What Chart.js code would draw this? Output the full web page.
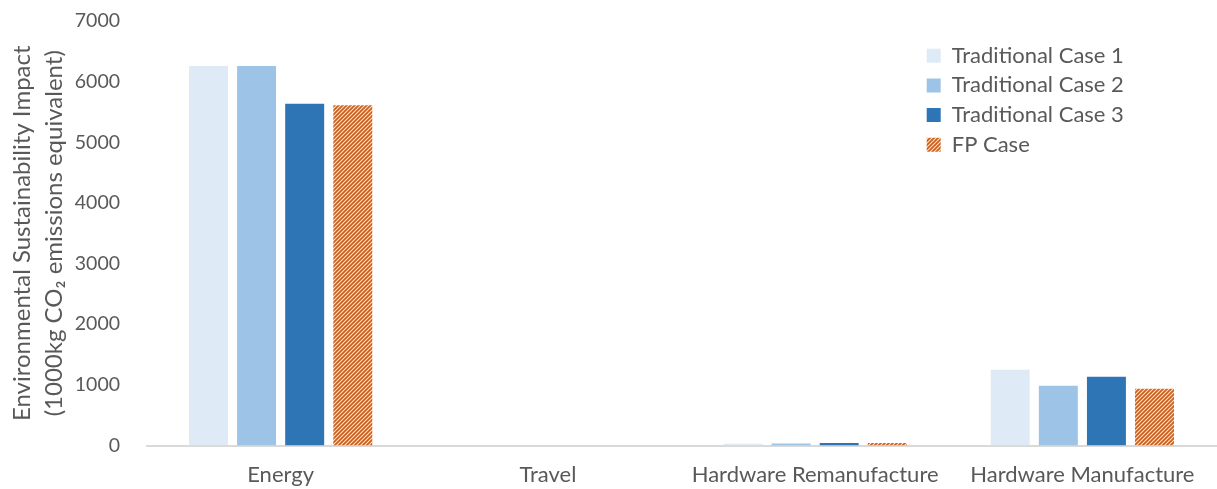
<!DOCTYPE html>
<html>
<head>
<meta charset="utf-8">
<script src="https://cdn.jsdelivr.net/npm/chart.js@4"></script>
<style>
  html, body { margin: 0; padding: 0; background: #fff; }
  #wrap { width: 1217px; height: 489px; }
</style>
</head>
<body>
<div id="wrap"><canvas id="impactChart"></canvas></div>
<script>
const categories = ["Energy", "Travel", "Hardware Remanufacture", "Hardware Manufacture"];
const seriesNames = ["Traditional Case 1", "Traditional Case 2", "Traditional Case 3", "FP Case"];
const case1 = [6260, 0, 30, 1250];
const case2 = [6260, 0, 35, 985];
const case3 = [5635, 0, 40, 1135];
const fpCase = [5610, 0, 40, 935];
const yTicks = [0, 1000, 2000, 3000, 4000, 5000, 6000, 7000];

const textColor = "#595959";
const fontFamily = "Lato, 'Open Sans', sans-serif";

// diagonal orange hatch for the FP series
function makeHatch() {
    const size = 4;
    const c = document.createElement("canvas");
    c.width = size;
    c.height = size;
    const g = c.getContext("2d");
    g.fillStyle = "#fbe3d2";
    g.fillRect(0, 0, size, size);
    g.strokeStyle = "#cf5c16";
    g.lineWidth = 1.7;
    g.beginPath();
    g.moveTo(-1, size + 1);
    g.lineTo(size + 1, -1);
    g.moveTo(-1, 1);
    g.lineTo(1, -1);
    g.moveTo(size - 1, size + 1);
    g.lineTo(size + 1, size - 1);
    g.stroke();
    return g.createPattern(c, "repeat");
}

// legend sits inside the plot, top right
const legendPlacer = {
    id: "legendPlacer",
    afterLayout(chart) {
        const lg = chart.legend;
        if (!lg) return;
        const h = lg.height;
        lg.left = 919;
        lg.top = 37;
        lg.bottom = lg.top + h;
    }
};

const ctx = document.getElementById("impactChart").getContext("2d");
new Chart(ctx, {
    type: "bar",
    data: {
        labels: categories,
        datasets: [
            { label: seriesNames[0], data: case1, backgroundColor: "#deebf7" },
            { label: seriesNames[1], data: case2, backgroundColor: "#9dc3e6" },
            { label: seriesNames[2], data: case3, backgroundColor: "#2e75b6" },
            { label: seriesNames[3], data: fpCase, backgroundColor: makeHatch() },
        ],
    },
    options: {
        responsive: true,
        maintainAspectRatio: false,
        animation: false,
        layout: { padding: { top: 0, right: 1, bottom: 0, left: 0 } },
        datasets: {
            bar: { categoryPercentage: 0.72, barPercentage: 0.81 },
        },
        scales: {
            x: {
                grid: { display: false, drawTicks: false },
                border: { color: "#d9d9d9", width: 2 },
                ticks: {
                    color: textColor,
                    padding: 16,
                    font: { family: fontFamily, size: 22 },
                },
                afterFit: (axis) => {
                    axis.height = 43.5;
                },
            },
            y: {
                min: 0,
                max: 7000,
                afterBuildTicks: (axis) => {
                    axis.ticks = yTicks.map((v) => ({ value: v }));
                },
                grid: { display: false, drawTicks: false },
                border: { display: false },
                ticks: {
                    color: textColor,
                    padding: 27,
                    font: { family: fontFamily, size: 19.5 },
                    callback: (v) => String(v),
                },
                title: {
                    display: true,
                    text: ["Environmental Sustainability Impact", "(1000kg CO\u2082 emissions equivalent)"],
                    color: textColor,
                    padding: { top: 6, bottom: 0 },
                    font: { family: fontFamily, size: 24, lineHeight: 1.35 },
                },
                afterFit: (axis) => {
                    axis.width = 147;
                    axis.paddingTop = 21;
                    axis.paddingBottom = 0;
                },
            },
        },
        plugins: {
            legend: {
                position: "chartArea",
                align: "start",
                labels: {
                    color: textColor,
                    boxWidth: 14,
                    boxHeight: 14,
                    padding: 7.7,
                    font: { family: fontFamily, size: 22 },
                },
            },
            tooltip: { enabled: false },
        },
    },
    plugins: [legendPlacer],
});
</script>
</body>
</html>
